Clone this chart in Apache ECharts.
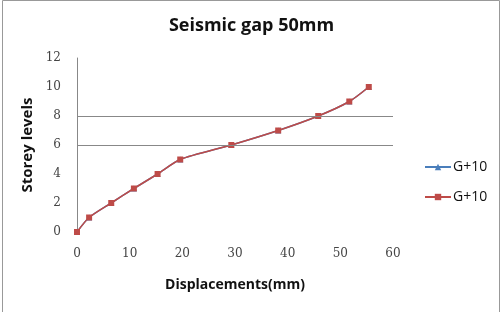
<!DOCTYPE html>
<html>
<head>
<meta charset="utf-8">
<script src="https://cdn.jsdelivr.net/npm/echarts@6/dist/echarts.min.js"></script>
<style>
    html, body { margin: 0; padding: 0; background: #fff; }
    #chart { width: 503px; height: 312px; }
</style>
</head>
<body>
<div id="chart"></div>
<script>
// displacement (mm) vs storey level
let displacements = [0, 2.3, 6.5, 10.8, 15.3, 19.6, 29.3, 38.2, 45.8, 51.7, 55.4];
let storeys = [0, 1, 2, 3, 4, 5, 6, 7, 8, 9, 10];
let gridLines = [6, 8];
let seriesNames = ['G+10', 'G+10'];

let points = displacements.map(function (d, i) { return [d, storeys[i]]; });

let labelFont = 'DejaVu Serif, Liberation Serif, serif';
let titleFont = 'Open Sans, Liberation Sans, sans-serif';

let option = {
    animation: false,
    title: {
        text: 'Seismic gap 50mm',
        left: 'center',
        top: 12,
        textStyle: {
            fontFamily: titleFont,
            fontSize: 18,
            fontWeight: 'bold',
            color: '#111'
        }
    },
    legend: {
        orient: 'vertical',
        left: 419,
        top: 155,
        itemGap: 16,
        itemWidth: 26,
        itemHeight: 8,
        data: ['a', 'b'],
        formatter: function (name) {
            return name === 'a' ? seriesNames[0] : seriesNames[1];
        },
        textStyle: {
            fontFamily: titleFont,
            fontSize: 14,
            color: '#111',
            padding: [0, 0, 0, -3]
        }
    },
    grid: {
        left: 77,
        right: 110,
        top: 58,
        bottom: 80
    },
    xAxis: {
        type: 'value',
        min: 0,
        max: 60,
        interval: 10,
        name: 'Displacements(mm)',
        nameLocation: 'middle',
        nameGap: 46,
        nameTextStyle: {
            fontFamily: titleFont,
            fontSize: 14,
            fontWeight: 'bold',
            color: '#111'
        },
        axisLine: { show: false },
        axisTick: { show: false },
        splitLine: { show: false },
        axisLabel: {
            margin: 16,
            fontFamily: labelFont,
            fontSize: 12,
            color: '#444'
        }
    },
    yAxis: {
        type: 'value',
        min: 0,
        max: 12,
        interval: 2,
        name: 'Storey levels',
        nameLocation: 'middle',
        nameGap: 40,
        nameTextStyle: {
            fontFamily: titleFont,
            fontSize: 15,
            fontWeight: 'bold',
            color: '#111'
        },
        axisLine: { show: true, lineStyle: { color: '#888', width: 1 } },
        axisTick: { show: false },
        splitLine: { show: false },
        axisLabel: {
            margin: 16,
            fontFamily: labelFont,
            fontSize: 12,
            color: '#444'
        }
    },
    series: [
        {
            name: 'a',
            type: 'line',
            smooth: 0.25,
            data: points,
            symbol: 'triangle',
            symbolSize: 6,
            lineStyle: { color: '#4A7EBB', width: 1.5 },
            itemStyle: { color: '#4A7EBB' }
        },
        {
            name: 'b',
            type: 'line',
            smooth: 0.25,
            data: points,
            symbol: 'rect',
            symbolSize: 6,
            lineStyle: { color: '#BE4B48', width: 1.5 },
            itemStyle: { color: '#BE4B48' },
            markLine: {
                silent: true,
                symbol: 'none',
                label: { show: false },
                lineStyle: { color: '#888', width: 1, type: 'solid' },
                data: gridLines.map(function (v) { return { yAxis: v }; })
            }
        }
    ],
    graphic: [
        {
            type: 'rect',
            shape: { x: 2.5, y: 0.5, width: 497, height: 320 },
            style: { fill: 'none', stroke: '#999', lineWidth: 1 },
            silent: true
        }
    ]
};

let chart = echarts.init(document.getElementById('chart'), null, { renderer: 'canvas' });
chart.setOption(option);
</script>
</body>
</html>
